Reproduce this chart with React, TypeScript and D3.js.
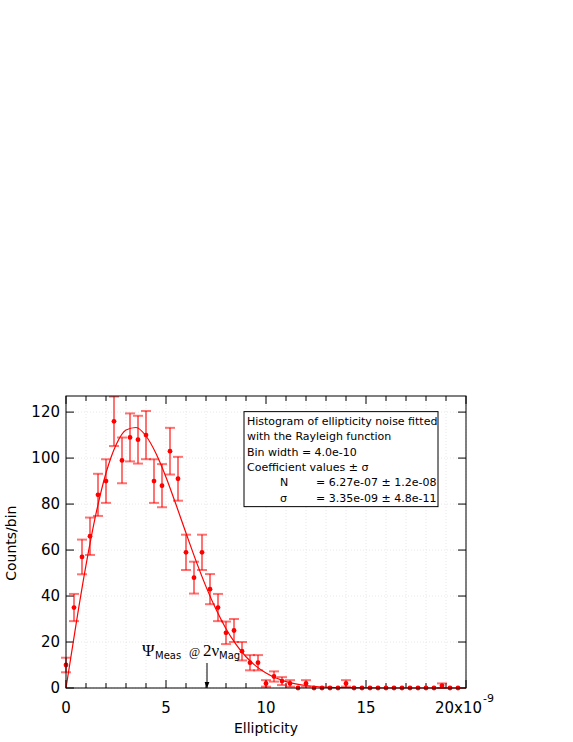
import React from "react";
import * as d3 from "d3";

const WIDTH = 573;
const HEIGHT = 742;
const MARGIN = { top: 396, right: 107, bottom: 54, left: 66 };

const BIN_WIDTH = 0.4; // x10^-9
const counts = [
  10, 35, 57, 66, 84, 90, 116, 99, 109, 108,
  110, 90, 88, 103, 91, 59, 48, 59, 43, 35,
  24, 25, 16, 11, 11, 2, 5, 3, 2, 0,
  2, 0, 0, 0, 0, 2, 0, 0, 0, 0,
  0, 0, 0, 0, 0, 0, 0, 1, 0, 0,
];

// Rayleigh fit
const fitX = [0, 0.5, 1, 1.5, 2, 2.5, 3, 3.5, 4, 4.5, 5, 5.5, 6, 6.5, 7, 7.5, 8, 8.5, 9, 9.5, 10, 11, 12, 13, 14, 16, 20];
const fitY = [0, 27.6, 53.4, 75.8, 93.5, 105.7, 112.2, 113.3, 109.6, 102, 91.7, 79.8, 67.4, 55.3, 44.1, 34.2, 25.8, 19, 13.6, 9.5, 6.5, 2.8, 1.1, 0.4, 0.13, 0.01, 0];

const xMajor = [0, 5, 10, 15];
const yMajor = [0, 20, 40, 60, 80, 100, 120];

const legendLines = [
  "Histogram of ellipticity noise fitted",
  "with the Rayleigh function",
  "Bin width = 4.0e-10",
  "Coefficient values \u00b1 \u03c3",
];
const coefNames = ["N", "\u03c3"];
const coefValues = ["= 6.27e-07 \u00b1 1.2e-08", "= 3.35e-09 \u00b1 4.8e-11"];

const ARROW_X = 7.05;

const RED = "#ff0000";
const FONT = "'DejaVu Sans', Verdana, sans-serif";
const SERIF = "'Liberation Serif', 'DejaVu Serif', serif";

export default function App() {
  const innerW = WIDTH - MARGIN.left - MARGIN.right;
  const innerH = HEIGHT - MARGIN.top - MARGIN.bottom;

  const x = d3.scaleLinear().domain([0, 20]).range([0, innerW]);
  const y = d3.scaleLinear().domain([0, 127]).range([innerH, 0]);

  const points = counts.map((c, i) => ({ x: +(i * BIN_WIDTH).toFixed(1), c, err: Math.sqrt(c) }));

  const fitLine = d3
    .line<number>()
    .x((d, i) => x(fitX[i]))
    .y((d) => y(d))
    .curve(d3.curveMonotoneX)(fitY);

  const minorX = d3.range(0, 21, 1);
  const ax = x(ARROW_X);
  const annY = innerH - 32;

  return (
    <div style={{ position: "absolute", left: 0, top: 0 }}>
      <svg width={WIDTH} height={HEIGHT} style={{ display: "block", fontFamily: FONT }}>
        <defs>
          <clipPath id="plotClip">
            <rect x={-10} y={0} width={innerW + 20} height={innerH + 10} />
          </clipPath>
          <marker id="arrowHead" viewBox="0 0 10 10" refX="10" refY="5" markerWidth="6" markerHeight="8" orient="auto">
            <path d="M0,1 L10,5 L0,9 Z" fill="#000" />
          </marker>
        </defs>
        <g transform={`translate(${MARGIN.left},${MARGIN.top})`}>
          {/* grid */}
          {minorX.map((v) => (
            <line key={"gx" + v} x1={x(v)} x2={x(v)} y1={0} y2={innerH} stroke="#e8e8e8" strokeDasharray="1,2" />
          ))}
          {yMajor.map((v) => (
            <line key={"gy" + v} x1={0} x2={innerW} y1={y(v)} y2={y(v)} stroke="#e8e8e8" strokeDasharray="1,2" />
          ))}

          {/* frame ticks */}
          {minorX.map((v) => {
            const len = v % 5 === 0 ? 8 : 5;
            return (
              <g key={"tx" + v} stroke="#000">
                <line x1={x(v)} x2={x(v)} y1={innerH} y2={innerH - len} />
                <line x1={x(v)} x2={x(v)} y1={0} y2={len} />
              </g>
            );
          })}
          {yMajor.map((v) => (
            <g key={"ty" + v} stroke="#000">
              <line x1={0} x2={8} y1={y(v)} y2={y(v)} />
              <line x1={innerW} x2={innerW - 8} y1={y(v)} y2={y(v)} />
            </g>
          ))}

          {/* fit curve + data */}
          <g clipPath="url(#plotClip)">
            <path d={fitLine || ""} fill="none" stroke={RED} strokeWidth={1.2} />
            {points
              .filter((p) => p.c > 0)
              .map((p) => {
                const top = y(p.c + p.err);
                const bot = y(p.c - p.err);
                const cx = x(p.x);
                return (
                  <g key={"e" + p.x} stroke={RED} strokeOpacity={0.55} strokeWidth={2}>
                    <line x1={cx} x2={cx} y1={top} y2={bot} />
                    <line x1={cx - 5} x2={cx + 5} y1={top} y2={top} />
                    <line x1={cx - 5} x2={cx + 5} y1={bot} y2={bot} />
                  </g>
                );
              })}
            {points.map((p) => (
              <circle key={"p" + p.x} cx={x(p.x)} cy={y(p.c)} r={2.4} fill={RED} />
            ))}
          </g>

          <rect x={0} y={0} width={innerW} height={innerH} fill="none" stroke="#000" strokeWidth={1} />

          {/* tick labels */}
          {yMajor.map((v) => (
            <text key={"ly" + v} x={-6} y={y(v)} dy="0.36em" textAnchor="end" fontSize={15}>
              {v}
            </text>
          ))}
          {xMajor.map((v) => (
            <text key={"lx" + v} x={x(v)} y={innerH + 25} textAnchor="middle" fontSize={15}>
              {v}
            </text>
          ))}
          <text x={x(20) + 16} y={innerH + 25} textAnchor="end" fontSize={15}>
            20x10
          </text>
          <text x={x(20) + 17} y={innerH + 14} fontSize={11}>
            -9
          </text>

          {/* axis titles */}
          <text x={x(10)} y={innerH + 45} textAnchor="middle" fontSize={14}>
            Ellipticity
          </text>
          <text transform={`translate(${16 - MARGIN.left},${y(63)}) rotate(-90)`} textAnchor="middle" fontSize={14}>
            Counts/bin
          </text>

          {/* annotation */}
          <line x1={ax} x2={ax} y1={innerH - 25} y2={innerH} stroke="#000" markerEnd="url(#arrowHead)" />
          <text x={ax - 65} y={annY} fontSize={17} fontFamily={SERIF}>{"\u03a8"}</text>
          <text x={ax - 52} y={annY + 3} fontSize={10}>Meas</text>
          <text x={ax - 18} y={annY} fontSize={12} fontFamily={SERIF}>@</text>
          <text x={ax - 4} y={annY} fontSize={17} fontFamily={SERIF}>{"2\u03bd"}</text>
          <text x={ax + 12} y={annY + 3} fontSize={10}>Mag</text>

          {/* legend box */}
          <g transform={`translate(${x(8.9)},${y(120.2)})`}>
            <rect x={0} y={0} width={194} height={95} fill="#fff" stroke="#000" />
            {legendLines.map((t, i) => (
              <text key={"lg" + i} x={3} y={13.5 + i * 15.3} fontSize={11}>
                {t}
              </text>
            ))}
            {coefNames.map((t, i) => (
              <text key={"cn" + i} x={36} y={13.5 + (i + 4) * 15.3} fontSize={11}>
                {t}
              </text>
            ))}
            {coefValues.map((t, i) => (
              <text key={"cv" + i} x={72} y={13.5 + (i + 4) * 15.3} fontSize={11}>
                {t}
              </text>
            ))}
          </g>
        </g>
      </svg>
    </div>
  );
}
